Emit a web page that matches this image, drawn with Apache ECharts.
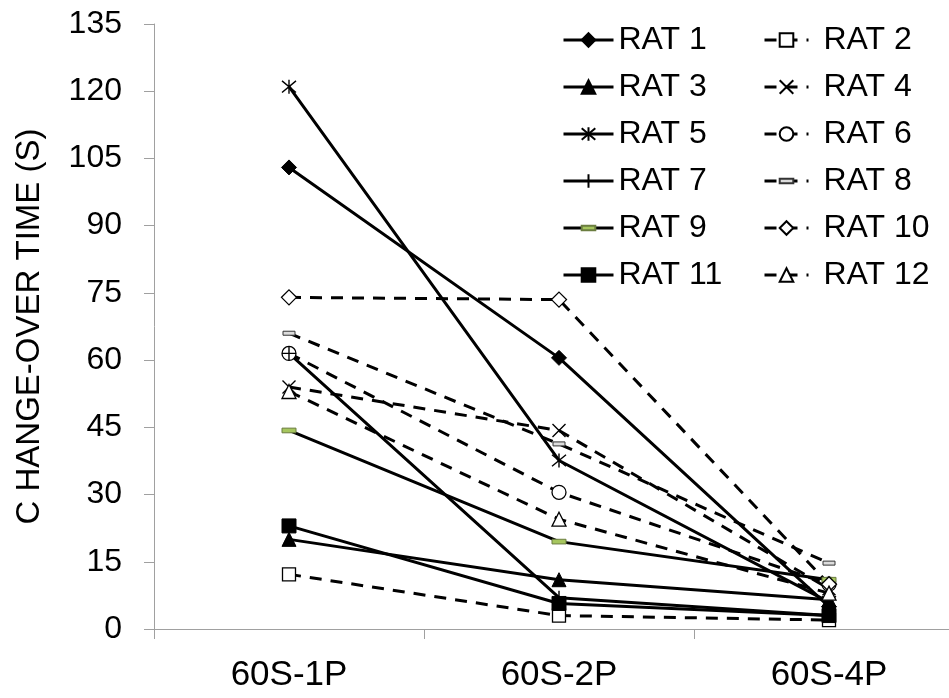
<!DOCTYPE html>
<html>
<head>
<meta charset="utf-8">
<script src="https://cdn.jsdelivr.net/npm/echarts@6/dist/echarts.min.js"></script>
<style>
  html, body { margin: 0; padding: 0; background: #fff; }
  #chart { width: 949px; height: 698px; }
</style>
</head>
<body>
<div id="chart"></div>
<script>
// Sessions on the x axis
const categories = ['60S-1P', '60S-2P', '60S-4P'];

// Change-over time (s) per rat for each session
const rat1  = [103,  60.5, 5];
const rat2  = [12.2, 3,    2];
const rat3  = [20,   11,   6.5];
const rat4  = [54,   44.3, 9];
const rat5  = [121,  37.6, 6];
const rat6  = [61.5, 30.5, 10];
const rat7  = [61.5, 7,    3];
const rat8  = [66,   41.3, 14.7];
const rat9  = [44.3, 19.5, 11];
const rat10 = [74,   73.5, 10];
const rat11 = [23,   5.7,  3];
const rat12 = [53,   24.5, 8];

// Y axis ticks
const yTicks = [0, 15, 30, 45, 60, 75, 90, 105, 120, 135];

const FONT = '"Liberation Sans", Arial, sans-serif';

// Marker shapes (square bounding boxes so they keep their look in the legend too)
const X_PATH = 'path://M0,0L10,10M10,0L0,10';
const STAR_PATH = 'path://M0,0L10,10M10,0L0,10M5,-1L5,11';
const PLUS_PATH = 'path://M5,0L5,10M0,5L10,5';
const DASH_PATH = 'path://M0,0M12,12M0,4L12,4L12,8L0,8Z';

const filled = { color: '#000', borderColor: '#000', borderWidth: 1 };
const hollow = { color: '#fff', borderColor: '#000', borderWidth: 1.3 };
const stroke = { color: '#000', borderColor: '#000', borderWidth: 1.4 };

const seriesDefs = [
  { name: 'RAT 1',  data: rat1,  dashed: false, symbol: 'diamond',  size: 15, style: filled },
  { name: 'RAT 2',  data: rat2,  dashed: true,  symbol: 'rect',     size: 13, style: hollow },
  { name: 'RAT 3',  data: rat3,  dashed: false, symbol: 'triangle', size: 14, style: filled },
  { name: 'RAT 4',  data: rat4,  dashed: true,  symbol: X_PATH,     size: 13, style: stroke },
  { name: 'RAT 5',  data: rat5,  dashed: false, symbol: STAR_PATH,  size: 14, style: stroke },
  { name: 'RAT 6',  data: rat6,  dashed: true,  symbol: 'circle',   size: 14, style: hollow },
  { name: 'RAT 7',  data: rat7,  dashed: false, symbol: PLUS_PATH,  size: 14, style: stroke },
  { name: 'RAT 8',  data: rat8,  dashed: true,  symbol: DASH_PATH,  size: 12, style: { color: '#dcdcdc', borderColor: '#333', borderWidth: 1 } },
  { name: 'RAT 9',  data: rat9,  dashed: false, symbol: DASH_PATH,  size: 14, style: { color: '#a6c65e', borderColor: '#6b7d40', borderWidth: 1 } },
  { name: 'RAT 10', data: rat10, dashed: true,  symbol: 'diamond',  size: 15, style: hollow },
  { name: 'RAT 11', data: rat11, dashed: false, symbol: 'rect',     size: 14, style: filled },
  { name: 'RAT 12', data: rat12, dashed: true,  symbol: 'triangle', size: 14, style: hollow }
];

const series = seriesDefs.map(d => ({
  name: d.name,
  type: 'line',
  data: d.data,
  symbol: d.symbol,
  symbolSize: d.size,
  showAllSymbol: true,
  itemStyle: d.style,
  lineStyle: { color: '#000', width: 3, type: d.dashed ? [12, 9] : 'solid' },
  emphasis: { disabled: true },
  z: 2
}));

const legendText = { fontFamily: FONT, fontSize: 32, color: '#000' };

const option = {
  backgroundColor: '#fff',
  animation: false,
  grid: {
    left: 154, top: 24, width: 810, height: 605,
    containLabel: false, outerBoundsMode: 'none'
  },
  legend: [
    {
      data: seriesDefs.filter((d, i) => i % 2 === 0).map(d => d.name),
      orient: 'vertical', left: 562, top: 24, padding: 0,
      itemWidth: 50, itemHeight: 17, itemGap: 15,
      lineStyle: { width: 3 },
      textStyle: legendText, selectedMode: false
    },
    {
      data: seriesDefs.filter((d, i) => i % 2 === 1).map(d => d.name),
      orient: 'vertical', left: 763, top: 24, padding: 0,
      itemWidth: 44, itemHeight: 17, itemGap: 15,
      lineStyle: { width: 3 },
      textStyle: Object.assign({ padding: [0, 0, 0, 10] }, legendText), selectedMode: false
    }
  ],
  xAxis: {
    type: 'category',
    data: categories,
    boundaryGap: true,
    axisLine: { lineStyle: { color: '#a0a0a0', width: 1 } },
    axisTick: { show: true, length: 10, lineStyle: { color: '#a0a0a0' } },
    axisLabel: { fontFamily: FONT, fontSize: 35, color: '#000', margin: 29 },
    splitLine: { show: false }
  },
  yAxis: {
    type: 'value',
    min: yTicks[0],
    max: yTicks[yTicks.length - 1],
    interval: yTicks[1] - yTicks[0],
    name: 'C HANGE-OVER TIME (S)',
    nameLocation: 'middle',
    nameGap: 108,
    nameTextStyle: { fontFamily: FONT, fontSize: 33, color: '#000' },
    axisLine: { show: true, lineStyle: { color: '#a0a0a0', width: 1 } },
    axisTick: { show: true, length: 10, lineStyle: { color: '#a0a0a0' } },
    axisLabel: { fontFamily: FONT, fontSize: 32, color: '#000', margin: 32 },
    splitLine: { show: false }
  },
  series: series
};

const chart = echarts.init(document.getElementById('chart'), null, { renderer: 'canvas' });
chart.setOption(option);
</script>
</body>
</html>
